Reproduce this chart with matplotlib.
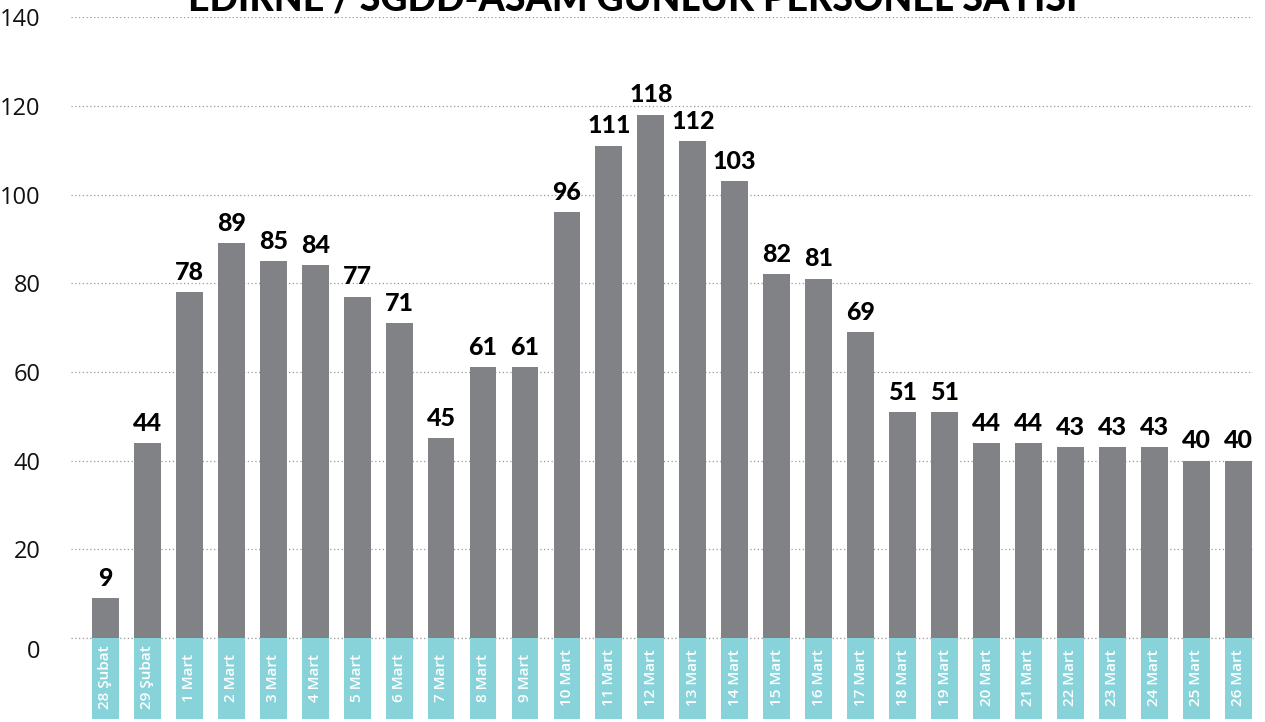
import matplotlib
matplotlib.use("Agg")
import matplotlib.pyplot as plt
import matplotlib.transforms as mtransforms
import numpy as np

dates = ["28 Şubat", "29 Şubat"] + [f"{d} Mart" for d in range(1, 27)]
staff = [9, 44, 78, 89, 85, 84, 77, 71, 45, 61, 61, 96, 111, 118, 112, 103,
         82, 81, 69, 51, 51, 44, 44, 43, 43, 43, 40, 40]
yticks = [0, 20, 40, 60, 80, 100, 120, 140]
title = "EDİRNE / SGDD-ASAM GÜNLÜK PERSONEL SAYISI"

bar_color = "#818286"
box_color = "#88d3da"
grid_color = "#999999"
bold_font = ["Lato", "DejaVu Sans"]

plt.rcParams["font.family"] = ["Open Sans", "DejaVu Sans"]

fig = plt.figure(figsize=(12.65, 7.22), dpi=100)
ax = fig.add_axes([0.0561, 0.1163, 0.9344, 0.8600])

x = np.arange(len(staff))
ax.bar(x, staff, width=0.64, color=bar_color, zorder=2)

# teal date boxes hanging under the baseline
ax.bar(x, -18.3, width=0.64, color=box_color, clip_on=False, zorder=2)
for xi, d in zip(x, dates):
    ax.text(xi, -8.9, d, rotation=90, ha="center", va="center",
            color="white", fontsize=11, fontweight="semibold", clip_on=False)

for xi, v in zip(x, staff):
    ax.annotate(str(v), (xi, v), xytext=(0, 6), textcoords="offset points",
                ha="center", va="bottom", fontsize=18, fontweight="black",
                family=bold_font, color="black")

ax.set_xlim(-0.82, len(staff) - 0.65)
ax.set_ylim(0, 140)
ax.set_yticks(yticks)
ax.set_yticklabels([str(t) for t in yticks], fontsize=17, color="#111111")
ax.set_xticks([])
ax.tick_params(axis="y", length=0, pad=22)
# the "0" sits a little below its gridline in the original
zero_lbl = ax.get_yticklabels()[0]
zero_lbl.set_transform(zero_lbl.get_transform()
                       + mtransforms.ScaledTranslation(0, -0.11, fig.dpi_scale_trans))
ax.grid(axis="y", color=grid_color, linestyle=(0, (1, 2)), linewidth=0.9, zorder=0)
ax.axhline(0, color=grid_color, linestyle=(0, (1, 2)), linewidth=0.9,
           clip_on=False, zorder=1)
for s in ax.spines.values():
    s.set_visible(False)

fig.text(0.5, 0.986, title, ha="center", va="baseline", fontsize=27,
         fontweight="black", family=bold_font, color="black")

fig.savefig("out.png", dpi=100)
